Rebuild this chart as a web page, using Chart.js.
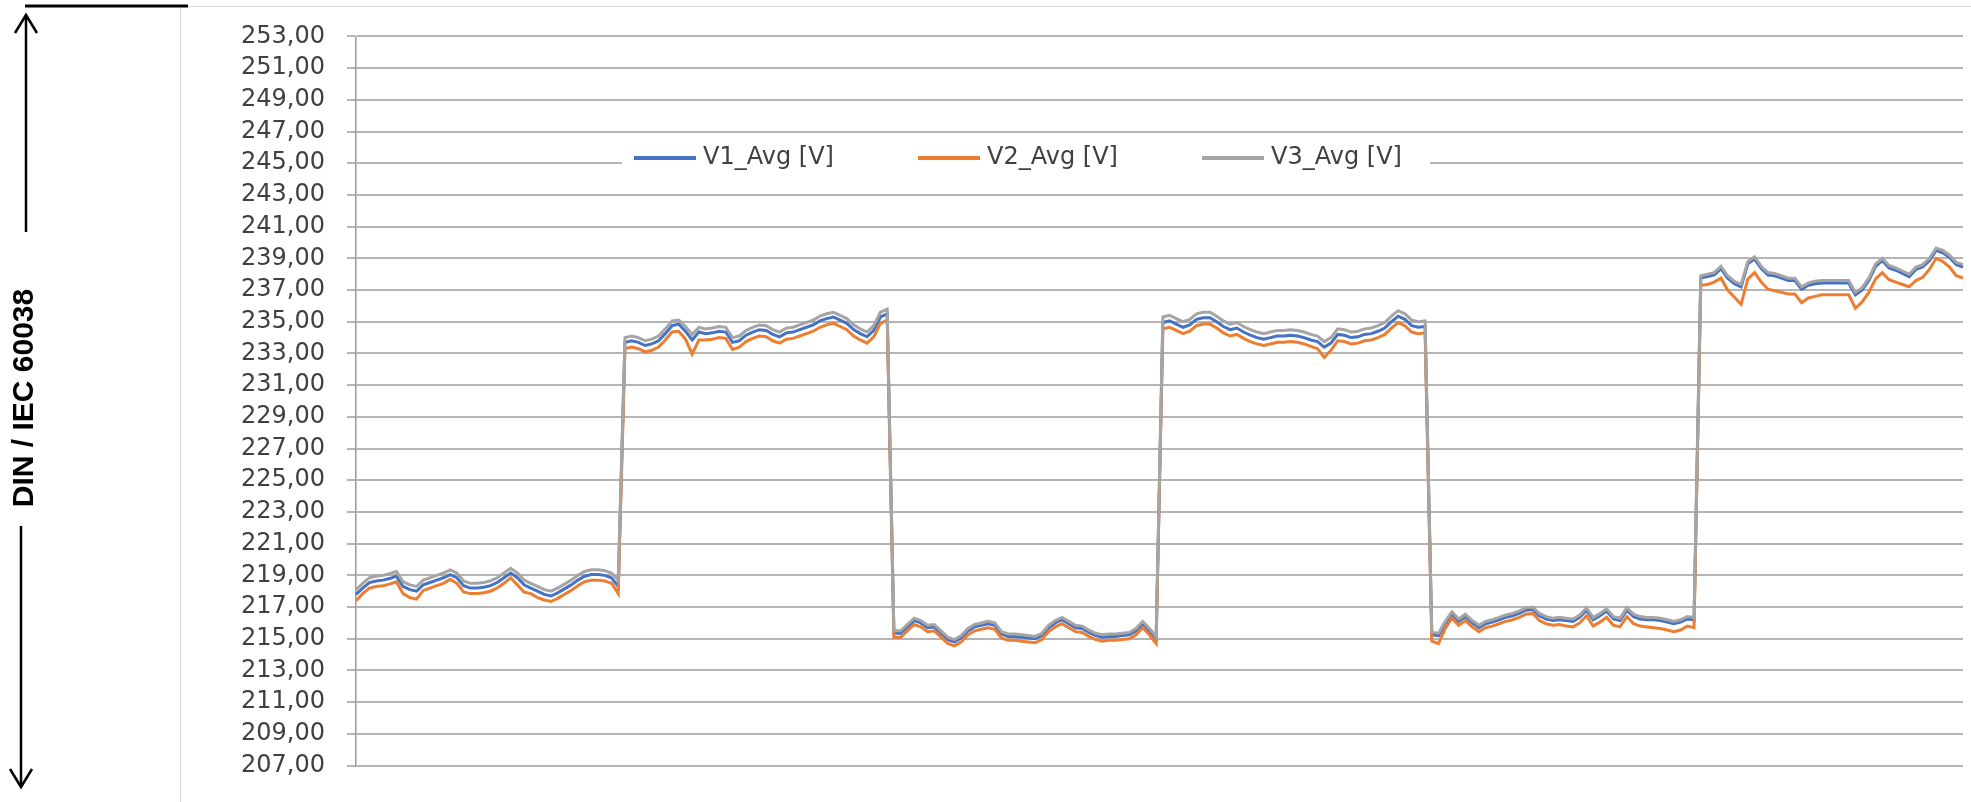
<!DOCTYPE html>
<html><head><meta charset="utf-8">
<script src="https://cdn.jsdelivr.net/npm/chart.js@4.4.0/dist/chart.umd.min.js"></script>
<style>html,body{margin:0;padding:0;background:#fff;overflow:hidden}canvas{display:block}</style>
</head><body>
<canvas id="c" width="1971" height="802"></canvas>
<script>
const seriesNames = ['V1_Avg [V]', 'V2_Avg [V]', 'V3_Avg [V]'];
const seriesColors = ['#4472C4', '#ED7D31', '#A5A5A5'];

const V1 = [
217.8,218.2,218.55,218.65,218.7,218.8,218.95,218.3,218.1,218.0,218.4,218.55,218.7,218.85,219.05,218.85,218.35,218.2,218.2,218.25,218.35,218.55,218.85,219.15,218.85,218.4,218.2,218.0,217.8,217.7,217.9,218.15,218.4,218.7,218.95,219.05,219.05,219.0,218.85,218.3,
233.7,233.8,233.7,233.5,233.6,233.8,234.25,234.75,234.85,234.4,233.85,234.35,234.25,234.3,234.4,234.35,233.7,233.8,234.15,234.35,234.5,234.45,234.2,234.05,234.3,234.35,234.5,234.65,234.8,235.05,235.2,235.3,235.1,234.9,234.5,234.25,234.05,234.45,235.3,235.5,
215.35,215.35,215.75,216.15,216.0,215.7,215.75,215.35,214.95,214.8,215.05,215.5,215.75,215.85,215.95,215.85,215.3,215.15,215.15,215.1,215.05,215.0,215.2,215.7,216.0,216.2,215.95,215.7,215.65,215.4,215.2,215.1,215.15,215.15,215.2,215.25,215.5,215.95,215.5,215.0,
234.95,235.05,234.85,234.65,234.8,235.15,235.25,235.25,235.0,234.7,234.5,234.6,234.35,234.15,234.0,233.9,234.0,234.1,234.1,234.15,234.1,234.0,233.85,233.75,233.4,233.65,234.2,234.15,234.0,234.05,234.2,234.25,234.4,234.6,235.0,235.35,235.15,234.75,234.65,234.7,
215.25,215.2,215.95,216.55,216.1,216.4,216.0,215.7,215.95,216.05,216.2,216.35,216.45,216.6,216.8,216.85,216.45,216.25,216.15,216.2,216.15,216.1,216.35,216.8,216.2,216.45,216.75,216.25,216.15,216.8,216.4,216.25,216.2,216.2,216.15,216.05,215.95,216.05,216.25,216.2,
237.75,237.85,237.95,238.35,237.75,237.4,237.2,238.65,238.95,238.35,237.95,237.9,237.75,237.6,237.6,237.05,237.3,237.4,237.45,237.45,237.45,237.45,237.45,236.7,237.0,237.6,238.5,238.85,238.4,238.25,238.05,237.85,238.3,238.45,238.85,239.5,239.35,239.05,238.6,238.45
];

const V2 = [
217.4,217.85,218.2,218.3,218.35,218.45,218.6,217.85,217.6,217.5,218.05,218.2,218.35,218.5,218.75,218.5,217.95,217.85,217.85,217.9,218.0,218.2,218.5,218.85,218.4,217.95,217.85,217.6,217.45,217.35,217.55,217.8,218.05,218.35,218.6,218.7,218.7,218.65,218.5,217.85,
233.3,233.4,233.3,233.1,233.2,233.4,233.85,234.35,234.4,233.9,232.95,233.85,233.85,233.9,234.0,233.95,233.25,233.4,233.75,233.95,234.1,234.05,233.8,233.65,233.9,233.95,234.1,234.25,234.4,234.65,234.8,234.9,234.7,234.5,234.1,233.85,233.65,234.05,234.9,235.1,
215.1,215.1,215.5,215.9,215.75,215.45,215.5,215.1,214.7,214.55,214.8,215.25,215.5,215.6,215.7,215.6,215.05,214.9,214.9,214.85,214.8,214.75,214.95,215.45,215.75,215.95,215.7,215.45,215.4,215.15,214.95,214.85,214.9,214.9,214.95,215.0,215.25,215.7,215.25,214.7,
234.55,234.65,234.45,234.25,234.4,234.75,234.85,234.85,234.6,234.3,234.1,234.2,233.95,233.75,233.6,233.5,233.6,233.7,233.7,233.75,233.7,233.6,233.45,233.3,232.75,233.2,233.8,233.75,233.6,233.65,233.8,233.85,234.0,234.2,234.6,234.95,234.75,234.35,234.25,234.3,
214.85,214.7,215.65,216.3,215.85,216.15,215.75,215.45,215.7,215.8,215.95,216.1,216.2,216.35,216.55,216.6,216.15,215.95,215.85,215.9,215.8,215.75,216.0,216.45,215.8,216.05,216.35,215.85,215.75,216.4,215.95,215.8,215.75,215.7,215.65,215.55,215.45,215.55,215.8,215.7,
237.3,237.35,237.5,237.75,237.0,236.55,236.1,237.7,238.1,237.5,237.05,236.95,236.85,236.75,236.75,236.2,236.5,236.6,236.7,236.7,236.7,236.7,236.7,235.85,236.25,236.85,237.7,238.1,237.65,237.5,237.35,237.2,237.6,237.8,238.3,239.0,238.8,238.45,237.9,237.75
];

const V3 = [
218.1,218.5,218.85,218.95,219.0,219.1,219.25,218.6,218.4,218.3,218.7,218.85,219.0,219.15,219.35,219.15,218.65,218.5,218.5,218.55,218.65,218.85,219.15,219.45,219.15,218.7,218.5,218.3,218.1,218.0,218.2,218.45,218.7,219.0,219.25,219.35,219.35,219.3,219.15,218.7,
234.0,234.1,234.0,233.8,233.9,234.1,234.55,235.05,235.1,234.7,234.2,234.65,234.55,234.6,234.7,234.65,234.0,234.1,234.45,234.65,234.8,234.75,234.5,234.35,234.6,234.65,234.8,234.95,235.1,235.35,235.5,235.6,235.4,235.2,234.8,234.55,234.35,234.75,235.6,235.8,
215.5,215.5,215.9,216.3,216.15,215.85,215.9,215.5,215.1,214.95,215.2,215.65,215.9,216.0,216.1,216.0,215.45,215.3,215.3,215.25,215.2,215.15,215.35,215.85,216.15,216.35,216.1,215.85,215.8,215.55,215.35,215.25,215.3,215.3,215.35,215.4,215.65,216.1,215.65,215.15,
235.3,235.4,235.2,235.0,235.15,235.5,235.6,235.6,235.35,235.05,234.85,234.95,234.7,234.5,234.35,234.25,234.35,234.45,234.45,234.5,234.45,234.35,234.2,234.1,233.75,234.0,234.55,234.5,234.35,234.4,234.55,234.6,234.75,234.95,235.35,235.7,235.5,235.1,235.0,235.05,
215.4,215.35,216.1,216.7,216.25,216.55,216.15,215.85,216.1,216.2,216.35,216.5,216.6,216.75,216.95,217.0,216.6,216.4,216.3,216.35,216.3,216.25,216.5,216.95,216.35,216.6,216.9,216.4,216.3,216.95,216.55,216.4,216.35,216.35,216.3,216.2,216.1,216.2,216.4,216.35,
237.9,238.0,238.1,238.5,237.9,237.55,237.35,238.8,239.1,238.5,238.1,238.05,237.9,237.75,237.75,237.2,237.45,237.55,237.6,237.6,237.6,237.6,237.6,236.85,237.15,237.75,238.65,239.0,238.55,238.4,238.2,238.0,238.45,238.6,239.0,239.65,239.5,239.2,238.75,238.6
];

const yMin = 207, yMax = 253, yStep = 2;
const categories = V1.map((_, i) => String(i + 1));
const sideLabel = 'DIN / IEC 60038';

const decor = {
  id: 'decor',
  beforeDraw(chart) {
    const ctx = chart.ctx;
    ctx.save();
    ctx.fillStyle = '#ffffff';
    ctx.fillRect(0, 0, chart.width, chart.height);
    ctx.strokeStyle = '#d9d9d9';
    ctx.lineWidth = 1;
    ctx.strokeRect(180.5, 6.5, chart.width, chart.height);
    ctx.restore();
  },
  afterDatasetsDraw(chart) {
    const ctx = chart.ctx;
    ctx.save();
    ctx.fillStyle = '#ffffff';
    ctx.fillRect(622, 143, 808, 32);
    ctx.font = '24px "DejaVu Sans", sans-serif';
    ctx.textBaseline = 'middle';
    ctx.textAlign = 'left';
    chart.data.datasets.forEach((ds, i) => {
      const x0 = 634 + i * 284;
      ctx.strokeStyle = ds.borderColor;
      ctx.lineWidth = 4;
      ctx.beginPath();
      ctx.moveTo(x0, 158);
      ctx.lineTo(x0 + 62, 158);
      ctx.stroke();
      ctx.fillStyle = '#404040';
      ctx.fillText(ds.label, x0 + 69, 158);
    });
    ctx.restore();
  },
  afterDraw(chart) {
    const ctx = chart.ctx;
    ctx.save();
    ctx.strokeStyle = '#000';
    ctx.lineWidth = 3;
    ctx.beginPath(); ctx.moveTo(25, 6); ctx.lineTo(188, 6); ctx.stroke();
    ctx.lineWidth = 2.5;
    ctx.beginPath(); ctx.moveTo(26, 15); ctx.lineTo(26, 232); ctx.stroke();
    ctx.beginPath(); ctx.moveTo(15, 33); ctx.lineTo(26, 15); ctx.lineTo(37, 33); ctx.stroke();
    ctx.beginPath(); ctx.moveTo(21, 526); ctx.lineTo(21, 787); ctx.stroke();
    ctx.beginPath(); ctx.moveTo(10, 769); ctx.lineTo(21, 787); ctx.lineTo(32, 769); ctx.stroke();
    ctx.translate(25, 398);
    ctx.rotate(-Math.PI / 2);
    ctx.font = 'bold 30px "Liberation Sans", Arial, sans-serif';
    ctx.fillStyle = '#000';
    ctx.textAlign = 'center';
    ctx.textBaseline = 'middle';
    ctx.fillText(sideLabel, 0, 0);
    ctx.restore();
  }
};

const seriesData = [V1, V2, V3];
const orders = [3, 2, 1];

new Chart(document.getElementById('c'), {
  type: 'line',
  data: {
    labels: categories,
    datasets: seriesData.map((d, i) => ({
      label: seriesNames[i],
      data: d,
      borderColor: seriesColors[i],
      backgroundColor: seriesColors[i],
      borderWidth: 3,
      pointRadius: 0,
      tension: 0,
      fill: false,
      order: orders[i]
    }))
  },
  options: {
    responsive: false,
    devicePixelRatio: 1,
    animation: false,
    layout: { padding: { left: 180, right: 8, top: 36, bottom: 29 } },
    plugins: { legend: { display: false }, tooltip: { enabled: false } },
    scales: {
      x: { type: 'category', display: false, offset: false },
      y: {
        min: yMin, max: yMax,
        afterFit(scale) { scale.width = 176; },
        ticks: {
          stepSize: yStep,
          padding: 22,
          color: '#404040',
          font: { family: '"DejaVu Sans", sans-serif', size: 24 },
          callback: v => v.toFixed(2).replace('.', ',')
        },
        grid: { color: '#b4b4b4', lineWidth: 2, tickLength: 9, drawTicks: true },
        border: { display: true, color: '#9a9a9a', width: 1.5 }
      }
    }
  },
  plugins: [decor]
});
</script>
</body></html>
